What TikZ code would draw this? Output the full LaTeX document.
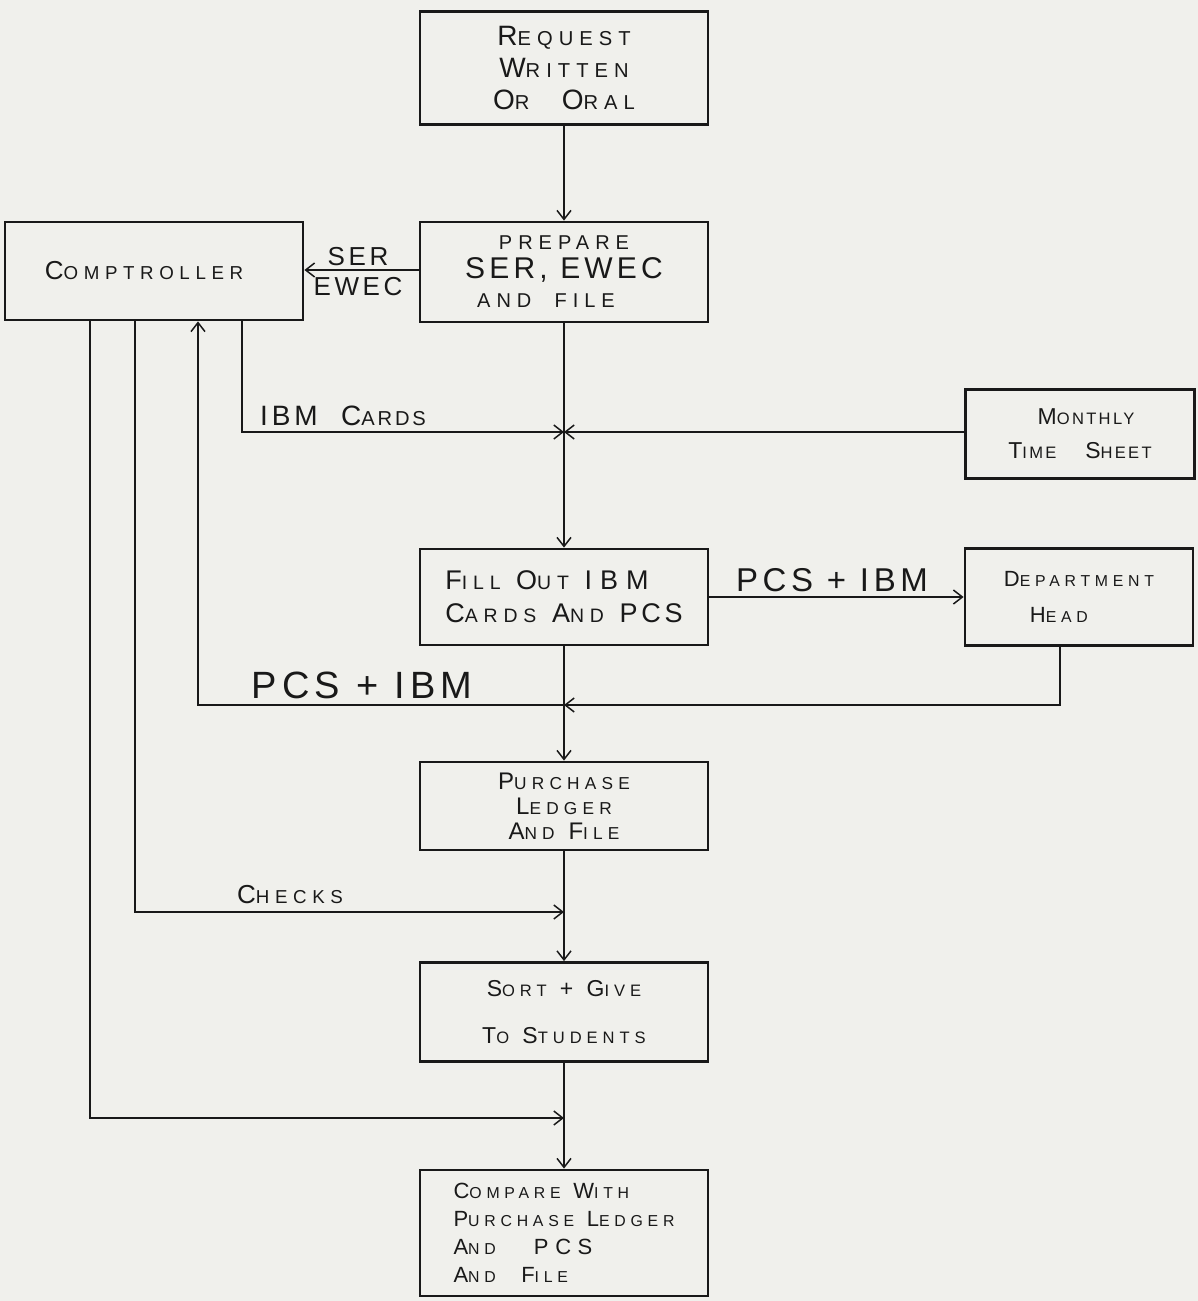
\documentclass[tikz,border=0pt]{standalone}
\usepackage{fontspec}
\usepackage{graphicx}
\usetikzlibrary{arrows.meta}
\newfontfamily\hand[LetterSpace=30]{Liberation Sans}
\newfontfamily\handb[LetterSpace=14]{Liberation Sans}
\newcommand\hs[2]{#1\scalebox{0.72}{#2}}
\definecolor{paper}{RGB}{240,240,236}
\definecolor{ink}{RGB}{25,25,25}
\tikzset{
  box/.style={draw=ink, line width=2.8pt, inner sep=0pt, align=center, text=ink},
  lbl/.style={inner sep=0pt, text=ink, font=\handb\fontsize{32}{34}\selectfont},
  conn/.style={draw=ink, line width=1.6pt, -{Straight Barb[length=9pt,width=14pt,line width=1.5pt]}}
}
\begin{document}
\begin{tikzpicture}[x=1pt,y=-1pt]
\fill[paper] (0,0) rectangle (1198,1301);
\useasboundingbox (0,0) rectangle (1198,1301);

% boxes
\node[box, minimum width=288pt, minimum height=113pt, font=\hand\fontsize{28}{32}\selectfont] (req) at (564,68)
  {\hs{R}{EQUEST}\\ \hs{W}{RITTEN}\\ \hs{O}{R}\ \ \hs{O}{RAL}};
\node[box, minimum width=288pt, minimum height=100pt, font=\handb\fontsize{30}{29}\selectfont] (prep) at (564,272)
  {{\hand\fontsize{20}{20}\selectfont PREPARE}\\ SER, EWEC\\ {\hand\fontsize{20}{20}\selectfont AND\ \ FILE\hspace*{36pt}}};
\node[box, minimum width=298pt, minimum height=98pt, font=\hand\fontsize{26}{32}\selectfont] (comp) at (154,271)
  {\hs{C}{OMPTROLLER}\hspace*{20pt}};
\node[box, minimum width=229pt, minimum height=89pt, font=\handb\fontsize{23}{34}\selectfont] (mts) at (1080,434)
  {\hspace*{12pt}\hs{M}{ONTHLY}\\ \hs{T}{IME}\ \ \ \hs{S}{HEET}};
\node[box, minimum width=288pt, minimum height=96pt, font=\hand\fontsize{27}{33}\selectfont, align=left] (fill) at (564,597)
  {\hs{F}{ILL}\ \hs{O}{UT}\ IBM\\ \hs{C}{ARDS}\ \hs{A}{ND}\ {\handb PCS}};
\node[box, minimum width=228pt, minimum height=97pt, font=\hand\fontsize{22}{36}\selectfont, align=left] (dh) at (1079,597)
  {\hs{D}{EPARTMENT}\\ \hspace*{26pt}\hs{H}{EAD}\hspace*{60pt}};
\node[box, minimum width=288pt, minimum height=88pt, font=\hand\fontsize{24}{25}\selectfont] (pur) at (564,806)
  {\hs{P}{URCHASE}\\ \hs{L}{EDGER}\\ \hs{A}{ND}\ \hs{F}{ILE}};
\node[box, minimum width=288pt, minimum height=99pt, font=\hand\fontsize{23}{47}\selectfont] (sort) at (564,1012)
  {\hs{S}{ORT} + \hs{G}{IVE}\\ \hs{T}{O} \hs{S}{TUDENTS}};
\node[box, minimum width=288pt, minimum height=126pt, font=\hand\fontsize{22}{28}\selectfont, align=left] (cmp) at (564,1233)
  {\hs{C}{OMPARE}\ \hs{W}{ITH}\\ \hs{P}{URCHASE}\ \hs{L}{EDGER}\\ \hs{A}{ND}\ \ \ PCS\\ \hs{A}{ND}\ \ \hs{F}{ILE}\hspace*{50pt}};

% junctions and turning points
\coordinate (j1) at (564,432);
\coordinate (j3) at (564,705);
\coordinate (j4) at (564,912);
\coordinate (j5) at (564,1118);
\coordinate (t1) at (242,432);
\coordinate (t3) at (198,705);
\coordinate (t4) at (135,912);
\coordinate (t5) at (90,1118);
\coordinate (dhx) at (1060,705);

% main flow
\draw[conn] (req.south) -- (prep.north);
\draw[conn] (prep.south) -- (fill.north);
\draw[conn] (fill.south) -- (pur.north);
\draw[conn] (pur.south) -- (sort.north);
\draw[conn] (sort.south) -- (cmp.north);

% prepare -> comptroller
\draw[conn] (prep.west |- 0,270) -- (comp.east |- 0,270);
\node[lbl, font=\handb\fontsize{26}{28}\selectfont] (lser) at (358,257) {SER};
\node[lbl, font=\handb\fontsize{26}{28}\selectfont] (lewec) at (358,287) {EWEC};

% IBM cards
\draw[conn] (comp.south -| t1) -- (t1) -- (j1);
\node[lbl, font=\handb\fontsize{28}{30}\selectfont] (libm) at (343,416) {IBM\ \ \hs{C}{ARDS}};
\draw[conn] (mts.west |- j1) -- (j1);

% fill -> dept head
\draw[conn] (fill.east) -- (dh.west);
\node[lbl, font=\handb\fontsize{33}{34}\selectfont] (lpcs1) at (832,580) {PCS + IBM};

% dept head -> main line -> comptroller
\draw[conn] (dh.south -| dhx) -- (dhx) -- (j3);
\draw[conn] (j3) -- (t3) -- (t3 |- comp.south);
\node[lbl, font=\handb\fontsize{38}{40}\selectfont] (lpcs2) at (362,685) {PCS + IBM};

% checks
\draw[conn] (comp.south -| t4) -- (t4) -- (j4);
\node[lbl, font=\hand\fontsize{26}{28}\selectfont] (lchk) at (290,895) {\hs{C}{HECKS}};

% final
\draw[conn] (comp.south -| t5) -- (t5) -- (j5);
\end{tikzpicture}
\end{document}
